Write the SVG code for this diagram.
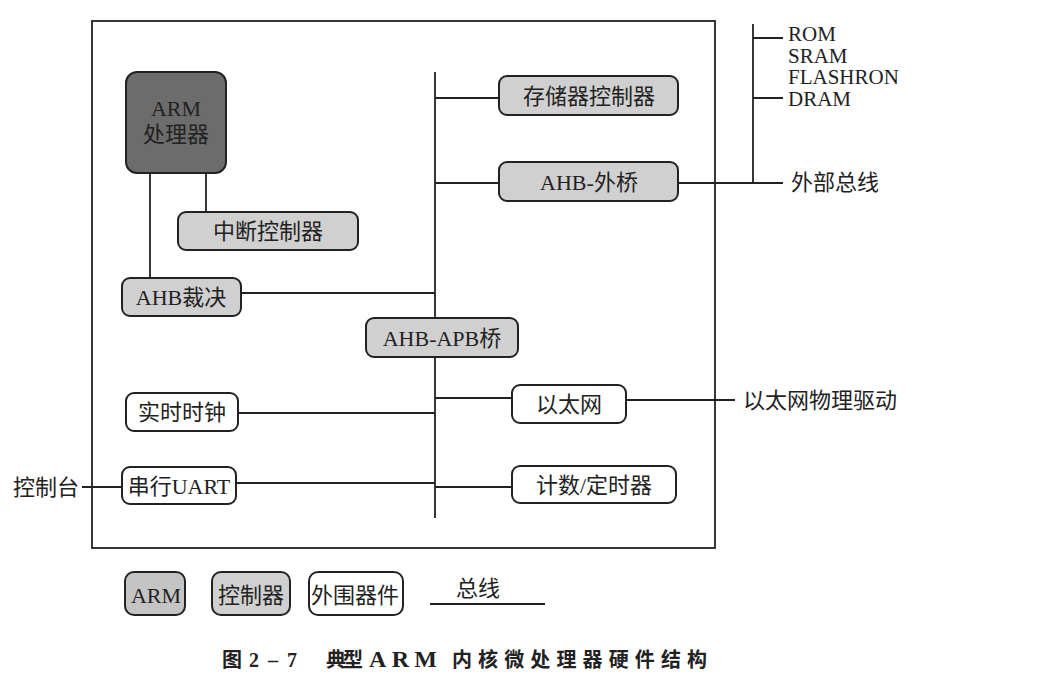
<svg xmlns="http://www.w3.org/2000/svg" width="1039" height="680" viewBox="0 0 1039 680">
<style>
.t{font-family:"Liberation Serif","Noto Sans CJK SC",serif;font-size:22px;fill:#222;}
.l{font-family:"Liberation Serif",serif;}
.c{text-anchor:middle;dominant-baseline:central;}
.ln{stroke:#222;stroke-width:1.8;fill:none;}
.arm{fill:#6c6c6c;stroke:#222;stroke-width:2;}
.ctl{fill:#d0d0d0;stroke:#222;stroke-width:2;}
.per{fill:#fff;stroke:#222;stroke-width:2;}
.cap{font-family:"Liberation Serif","Noto Sans CJK SC",serif;font-size:20px;font-weight:bold;fill:#222;}
</style>
<rect width="1039" height="680" fill="#fff"/>
<rect id="frame" x="92" y="21" width="623" height="527" fill="none" stroke="#222" stroke-width="1.8"/>
<g id="connectors" class="ln">
<path d="M150 173V278M206 173V212"/>
<path d="M241 293H435"/>
<path d="M435 72V318M435 357V518"/>
<path d="M435 98H499M435 183H499"/>
<path d="M678 183H783M753 24V183M753 38H783M753 98H783"/>
<path d="M435 398H512M626 400H735"/>
<path d="M238 413H435"/>
<path d="M435 487H512"/>
<path d="M236 483H435M82 487H122"/>
</g>
<g id="arm"><rect class="arm" x="126" y="72" width="100" height="101" rx="11"/><text class="t c l" x="176" y="108">ARM</text><text class="t c" x="176" y="134">处理器</text></g>
<g id="intc"><rect class="ctl" x="178" y="212" width="180" height="38" rx="8"/><text class="t c" x="268" y="231">中断控制器</text></g>
<g id="arb"><rect class="ctl" x="122" y="278" width="119" height="38" rx="8"/><text class="t c" x="181" y="297"><tspan class="l">AHB</tspan>裁决</text></g>
<g id="memc"><rect class="ctl" x="499" y="76" width="179" height="39" rx="8"/><text class="t c" x="589" y="96">存储器控制器</text></g>
<g id="ahbext"><rect class="ctl" x="499" y="162" width="179" height="39" rx="8"/><text class="t c" x="589" y="182"><tspan class="l">AHB-</tspan>外桥</text></g>
<g id="apb"><rect class="ctl" x="366" y="318" width="152" height="39" rx="8"/><text class="t c" x="442" y="338"><tspan class="l">AHB-APB</tspan>桥</text></g>
<g id="eth"><rect class="per" x="512" y="385" width="114" height="38" rx="8"/><text class="t c" x="569" y="404">以太网</text></g>
<g id="rtc"><rect class="per" x="126" y="393" width="112" height="38" rx="8"/><text class="t c" x="182" y="412">实时时钟</text></g>
<g id="timer"><rect class="per" x="512" y="466" width="164" height="37" rx="8"/><text class="t c" x="594" y="485">计数<tspan class="l">/</tspan>定时器</text></g>
<g id="uart"><rect class="per" x="122" y="467" width="114" height="37" rx="8"/><text class="t c" x="179" y="486">串行<tspan class="l">UART</tspan></text></g>
<g id="labels">
<text class="t l" x="788" y="41" style="font-size:21px">ROM<tspan x="788" dy="21.7">SRAM</tspan><tspan x="788" dy="21.7">FLASHRON</tspan><tspan x="788" dy="21.7">DRAM</tspan></text>
<text class="t" x="791" y="182" dominant-baseline="central">外部总线</text>
<text class="t" x="743" y="400" dominant-baseline="central">以太网物理驱动</text>
<text class="t" x="13" y="487" dominant-baseline="central">控制台</text>
</g>
<g id="legend">
<rect class="ctl" x="125" y="572" width="60" height="43" rx="9" style="fill:#c4c4c4"/><text class="t c l" x="156" y="595">ARM</text>
<rect class="ctl" x="212" y="572" width="78" height="43" rx="9"/><text class="t c" x="251" y="595">控制器</text>
<rect class="per" x="309" y="572" width="94" height="43" rx="9"/><text class="t c" x="355" y="595">外围器件</text>
<path class="ln" d="M430 604H545"/><text class="t c" x="478" y="588">总线</text>
</g>
<g id="caption">
<text class="cap" x="222" y="667">图</text>
<text class="cap" x="249" y="667" textLength="48" lengthAdjust="spacing">2–7</text>
<text class="cap" x="326" y="667" textLength="37" lengthAdjust="spacing">典型</text>
<text class="cap" x="369" y="667" style="font-size:24px" textLength="68" lengthAdjust="spacing">ARM</text>
<text class="cap" x="452" y="667" textLength="255" lengthAdjust="spacing">内核微处理器硬件结构</text>
</g>
</svg>
